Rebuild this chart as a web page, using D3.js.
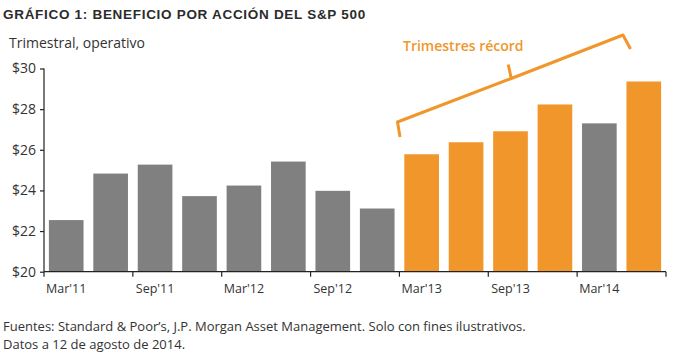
<!DOCTYPE html>
<html><head><meta charset="utf-8">
<script src="https://cdn.jsdelivr.net/npm/d3@7"></script>
<style>
body{margin:0;background:#fff;}
svg{display:block;font-family:"Open Sans",sans-serif;}
</style></head>
<body><svg id="c" width="674" height="356"></svg>
<script>
const categories = ["Mar'11","Jun'11","Sep'11","Dec'11","Mar'12","Jun'12","Sep'12","Dec'12","Mar'13","Jun'13","Sep'13","Dec'13","Mar'14","Jun'14"];
const values = [22.54,24.83,25.27,23.72,24.24,25.42,23.98,23.11,25.78,26.37,26.91,28.23,27.30,29.36];
const record = [false,false,false,false,false,false,false,false,true,true,true,true,false,true];
const yTicks = [20,22,24,26,28,30];
const xLabels = ["Mar'11","Sep'11","Mar'12","Sep'12","Mar'13","Sep'13","Mar'14"];

const GRAY = "#808080", ORANGE = "#f0962a", TEXT = "#333";
const svg = d3.select("#c");
const m = {l:44, r:8, t:68.5, b:84};
const x = d3.scaleBand().domain(categories).range([m.l, 666]).paddingInner(0.22).paddingOuter(0.11);
const y = d3.scaleLinear().domain([20,30]).range([271.7, 68.5]);

// title
svg.append("text").attr("x",3).attr("y",19).attr("font-size",13.5).attr("font-weight","bold")
  .attr("letter-spacing","0.7px").attr("fill","#2b2b2b")
  .attr("font-family","'Liberation Sans',sans-serif")
  .text("GRÁFICO 1: BENEFICIO POR ACCIÓN DEL S&P 500");
svg.append("text").attr("x",9).attr("y",48).attr("font-size",14).attr("fill",TEXT)
  .text("Trimestral, operativo");

// bars
svg.append("g").selectAll("rect").data(categories).join("rect")
  .attr("x",d=>x(d)).attr("width",x.bandwidth())
  .attr("y",(d,i)=>y(values[i])).attr("height",(d,i)=>y(20)-y(values[i]))
  .attr("fill",(d,i)=>record[i]?ORANGE:GRAY);

// y axis
const ya = svg.append("g").attr("transform",`translate(${m.l},0)`)
  .call(d3.axisLeft(y).tickValues(yTicks).tickSize(4).tickPadding(4).tickFormat(d=>"$"+d));
ya.selectAll("text").attr("font-size",14).attr("fill",TEXT).attr("font-family","'Open Sans',sans-serif");
ya.selectAll("line,path").attr("stroke","#222").attr("stroke-width",1.2);
ya.select(".domain").attr("d",`M0,${y(30)}V${y(20)}`);

// x axis
const tickPos = d3.range(0,15,2).map(i=> m.l + i*(666-m.l)/14);
const xg = svg.append("g");
xg.append("line").attr("x1",m.l).attr("x2",666).attr("y1",y(20)).attr("y2",y(20)).attr("stroke","#222").attr("stroke-width",1.2);
xg.selectAll("line.t").data(tickPos).join("line").attr("class","t")
  .attr("x1",d=>d).attr("x2",d=>d).attr("y1",y(20)).attr("y2",y(20)+5).attr("stroke","#222").attr("stroke-width",1.2);
xg.selectAll("text").data(xLabels).join("text")
  .attr("x",d=>x(d)+x.bandwidth()/2).attr("y",293).attr("text-anchor","middle")
  .attr("font-size",12.5).attr("fill",TEXT).text(d=>d);

// bracket
const p0 = [400,137], p1=[397.5,122], p2=[623,35], p3=[630.5,49];
const mid = [(p1[0]+p2[0])/2+1, (p1[1]+p2[1])/2];
svg.append("path")
  .attr("d",`M${p0[0]},${p0[1]}L${p1[0]},${p1[1]}L${mid[0]},${mid[1]}L${mid[0]-3},${mid[1]-14}M${mid[0]},${mid[1]}L${p2[0]},${p2[1]}L${p3[0]},${p3[1]}`)
  .attr("fill","none").attr("stroke",ORANGE).attr("stroke-width",3).attr("stroke-linejoin","round");
svg.append("text").attr("x",403).attr("y",51).attr("font-size",14).attr("font-weight",600)
  .attr("fill",ORANGE).text("Trimestres récord");

// footer
svg.append("text").attr("x",3).attr("y",331).attr("font-size",13).attr("fill",TEXT)
  .text("Fuentes: Standard & Poor’s, J.P. Morgan Asset Management. Solo con fines ilustrativos.");
svg.append("text").attr("x",3).attr("y",349).attr("font-size",13).attr("fill",TEXT)
  .text("Datos a 12 de agosto de 2014.");
</script></body></html>
